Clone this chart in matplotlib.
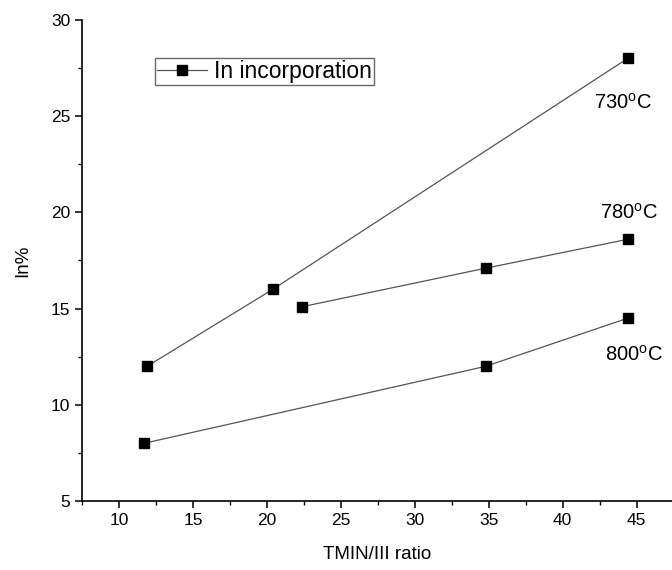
import matplotlib
matplotlib.use("Agg")
import matplotlib.pyplot as plt
from matplotlib.ticker import MultipleLocator

plt.rcParams["font.family"] = ["Liberation Sans", "DejaVu Sans"]
plt.rcParams["mathtext.fontset"] = "custom"
plt.rcParams["mathtext.rm"] = "Liberation Sans"

# In incorporation vs TMIN/III ratio at three growth temperatures
x_730 = [11.9, 20.4, 44.4]
y_730 = [12.0, 16.0, 28.0]
x_780 = [22.4, 34.8, 44.4]
y_780 = [15.1, 17.1, 18.6]
x_800 = [11.7, 34.8, 44.4]
y_800 = [8.0, 12.0, 14.5]

temp_labels = ["730$^{\\mathrm{o}}$C", "780$^{\\mathrm{o}}$C", "800$^{\\mathrm{o}}$C"]
label_x = [44.1, 44.5, 44.8]
label_y = [25.7, 20.0, 12.6]

fig = plt.figure(figsize=(6.72, 5.7), dpi=100)
ax = fig.add_axes([0.122, 0.121, 0.878, 0.844])

style = dict(color="#555555", lw=0.9, marker="s", markersize=6.5,
             markerfacecolor="black", markeredgecolor="black")
ax.plot(x_730, y_730, label="In incorporation", **style)
ax.plot(x_780, y_780, **style)
ax.plot(x_800, y_800, **style)

for tx, ty, t in zip(label_x, label_y, temp_labels):
    ax.text(tx, ty, t, ha="center", va="center", fontsize=14.5)

ax.set_xlim(7.5, 47.4)
ax.set_ylim(5, 30)
ax.xaxis.set_major_locator(MultipleLocator(5))
ax.xaxis.set_minor_locator(MultipleLocator(2.5))
ax.yaxis.set_major_locator(MultipleLocator(5))
ax.yaxis.set_minor_locator(MultipleLocator(2.5))

ax.spines["top"].set_visible(False)
ax.spines["right"].set_visible(False)
for s in ("left", "bottom"):
    ax.spines[s].set_linewidth(1.2)

ax.tick_params(which="major", direction="out", length=5, width=1.1, labelsize=12.5)
ax.tick_params(which="minor", direction="out", length=3, width=1.0)

ax.set_xlabel("TMIN/III ratio", fontsize=13.5, labelpad=13)
ax.set_ylabel("In%", fontsize=13.5, labelpad=14)

leg = ax.legend(loc="upper left", bbox_to_anchor=(0.124, 0.921), fontsize=16.5,
                frameon=True, fancybox=False, handlelength=2.2,
                borderpad=0.08, handletextpad=0.3, borderaxespad=0)
leg.get_frame().set_edgecolor("#444444")
leg.get_frame().set_linewidth(1.0)

fig.savefig("out.png", dpi=100)
